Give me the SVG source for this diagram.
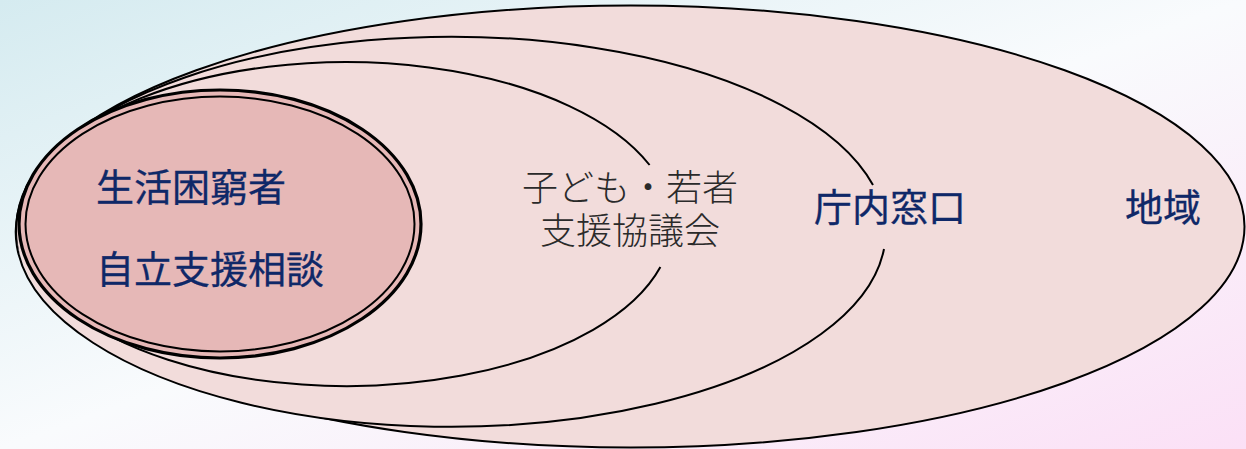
<svg xmlns="http://www.w3.org/2000/svg" width="1246" height="449" viewBox="0 0 1246 449">
<defs>
<linearGradient id="bg" x1="0" y1="0" x2="1" y2="1">
<stop offset="0" stop-color="#d5ebf0"/>
<stop offset="0.5" stop-color="#f9fbfd"/>
<stop offset="1" stop-color="#fbe0f6"/>
</linearGradient>
<style>
.ring{fill:#f2dcdb;stroke:none}
.line{fill:none;stroke:#000;stroke-width:2}
.navy{font-family:"Noto Sans CJK JP","Noto Sans CJK SC",sans-serif;fill:#0f2868;stroke:#0f2868;stroke-width:0.3;font-size:38px;font-weight:400}
.gray{font-family:"Noto Sans CJK JP","Noto Sans CJK SC",sans-serif;fill:#2a2a2a;font-size:36px;font-weight:300}
</style>
</defs>
<rect x="0" y="0" width="1246" height="449" fill="url(#bg)"/>
<g id="chiiki">
<ellipse class="ring" cx="630.5" cy="226.5" rx="614" ry="221"/>
<ellipse class="line" cx="630.5" cy="226.5" rx="614" ry="221"/>
<text class="navy" x="1125" y="221">地域</text>
</g>
<g id="chonai">
<ellipse class="ring" cx="452" cy="232" rx="435" ry="195"/>
<path class="line" d="M 884 249 A 435 195 0 1 1 873 185"/>
<text class="navy" x="814" y="221">庁内窓口</text>
</g>
<g id="kodomo">
<ellipse class="ring" cx="346" cy="224" rx="326" ry="162"/>
<path class="line" d="M 660.4 267 A 326 162 0 1 1 649.6 165"/>
<text class="gray" text-anchor="middle"><tspan x="630" y="201">子ども・若者</tspan><tspan x="630" y="244">支援協議会</tspan></text>
</g>
<g id="seikatsu">
<ellipse cx="220" cy="224" rx="201" ry="134" fill="#e6b8b7" stroke="#000" stroke-width="3.2"/>
<ellipse cx="220" cy="224" rx="194.5" ry="127.5" fill="none" stroke="#000" stroke-width="2"/>
<text class="navy" x="96" y="201">生活困窮者</text>
<text class="navy" x="96" y="283">自立支援相談</text>
</g>
<g id="connectors"/>
</svg>
